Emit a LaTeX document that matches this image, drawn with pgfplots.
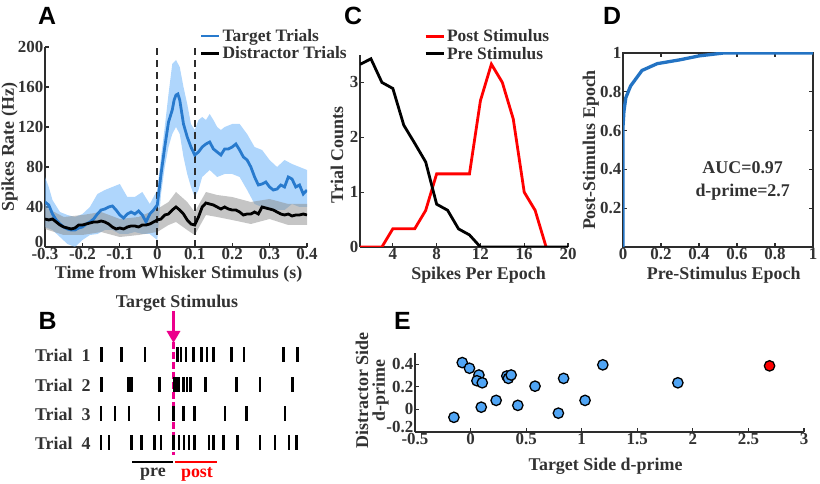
\documentclass[border=0pt]{standalone}
\usepackage{fontspec}
\setmainfont{Liberation Serif}
\setsansfont{Liberation Sans}
\usepackage{pgfplots}
\pgfplotsset{compat=1.18}
\usetikzlibrary{arrows.meta}
\definecolor{tgtblue}{RGB}{40,122,205}
\definecolor{shadeblue}{RGB}{110,180,250}
\definecolor{ptblue}{RGB}{80,165,245}
\definecolor{rocblue}{RGB}{35,115,195}
\definecolor{axgray}{RGB}{45,45,45}
\definecolor{txtgray}{RGB}{50,50,50}
\newcommand{\lf}{\fontsize{18}{17}\selectfont\bfseries}
\pgfplotsset{
 mystyle/.style={
  scale only axis, anchor=south west,
  axis line style={axgray, line width=1.6bp},
  tick style={axgray, line width=1.2bp},
  tick align=inside, major tick length=4bp,
  ticklabel style={font=\fontsize{17}{19}\selectfont\bfseries, text=txtgray},
  label style={font=\lf, text=txtgray},
  xticklabel style={inner sep=1bp},
  yticklabel style={inner sep=1.5bp},
 },
 mylegend/.style={
  legend style={draw=none, fill=none, inner sep=0pt, font=\fontsize{17.5}{19}\selectfont\bfseries, text=txtgray, row sep=0bp},
  legend cell align=left,
  legend image code/.code={\draw[##1] (0bp,0bp) -- (18bp,0bp);},
 }
}
\begin{document}
\begin{tikzpicture}
\useasboundingbox (0,0) rectangle (820bp,484bp);
% ---------------- Panel A
\begin{axis}[mystyle, mylegend, at={(45bp,237bp)}, width=262bp, height=200bp,
 xmin=-0.3, xmax=0.4, ymin=0, ymax=200,
 axis x line*=bottom, axis y line*=left,
 xtick={-0.3,-0.2,-0.1,0,0.1,0.2,0.3,0.4}, xticklabels={-0.3,-0.2,-0.1,0,0.1,0.2,0.3,0.4},
 ytick={0,40,80,120,160,200}, yticklabels={\raisebox{-0.5bp}[0pt][0pt]{0},40,80,120,160,200},
 xlabel={Time from Whisker Stimulus (s)}, ylabel={Spikes Rate (Hz)},
 xlabel style={at={(axis description cs:0.51,-0.137)}, anchor=center},
 ylabel style={at={(axis description cs:-0.135,0.5)}, anchor=center},
 legend style={at={(axis description cs:0.59,1.1)}, anchor=north west}]
\addplot[forget plot, draw=none, fill=shadeblue, fill opacity=0.55] coordinates {
(-0.3,70)(-0.29,60)(-0.28,47)(-0.26,35)(-0.24,32)(-0.22,30)(-0.20,33)(-0.18,40)(-0.16,53)(-0.14,57)(-0.12,60)(-0.10,63)(-0.08,50)(-0.06,50)(-0.04,55)(-0.02,43)(-0.01,50)(0,57)(0.01,90)(0.02,120)(0.03,153)(0.04,183)(0.05,187)(0.06,180)(0.07,160)(0.08,143)(0.09,123)(0.10,117)(0.11,127)(0.12,130)(0.13,127)(0.14,133)(0.15,127)(0.16,120)(0.17,117)(0.18,120)(0.20,123)(0.22,123)(0.24,113)(0.26,100)(0.28,97)(0.30,87)(0.32,80)(0.34,87)(0.36,83)(0.38,80)(0.40,77)
(0.40,40)(0.38,40)(0.36,43)(0.34,37)(0.32,37)(0.30,37)(0.28,40)(0.26,43)(0.24,57)(0.22,70)(0.20,73)(0.18,73)(0.16,70)(0.14,77)(0.12,70)(0.11,57)(0.10,50)(0.09,60)(0.08,73)(0.07,90)(0.06,113)(0.05,120)(0.04,113)(0.03,100)(0.02,80)(0.01,53)(0,7)(-0.02,13)(-0.04,13)(-0.06,15)(-0.08,13)(-0.10,13)(-0.12,17)(-0.14,17)(-0.16,13)(-0.18,12)(-0.20,7)(-0.22,0)(-0.24,3)(-0.26,10)(-0.28,17)(-0.30,20)};
\addplot[forget plot, draw=none, fill=black!45, fill opacity=0.5] coordinates {
(-0.3,40)(-0.25,30)(-0.2,32)(-0.15,35)(-0.1,28)(-0.05,30)(0,38)(0.03,45)(0.05,55)(0.08,45)(0.1,35)(0.13,55)(0.16,52)(0.2,50)(0.25,45)(0.3,48)(0.35,43)(0.4,43)
(0.4,22)(0.35,22)(0.3,28)(0.25,23)(0.2,27)(0.16,30)(0.13,32)(0.1,12)(0.08,17)(0.05,25)(0.03,22)(0,15)(-0.05,12)(-0.1,10)(-0.15,15)(-0.2,12)(-0.25,12)(-0.3,18)};
\addplot[forget plot, axgray, line width=1.7bp, dash pattern=on 7bp off 5bp] coordinates {(0,0)(0,200)};
\addplot[forget plot, axgray, line width=1.7bp, dash pattern=on 7bp off 5bp] coordinates {(0.1,0)(0.1,200)};
\addplot[tgtblue, line width=2.8bp] coordinates {
(-0.3,45)(-0.29,42)(-0.28,33)(-0.27,27)(-0.26,23)(-0.25,20)(-0.24,18)(-0.23,17)(-0.22,17)(-0.21,19)(-0.20,20)(-0.19,23)(-0.18,25)(-0.17,28)(-0.16,33)(-0.15,37)(-0.14,38)(-0.13,40)(-0.12,41)(-0.11,37)(-0.10,32)(-0.09,29)(-0.08,33)(-0.07,35)(-0.06,33)(-0.05,36)(-0.04,32)(-0.03,25)(-0.02,33)(-0.01,37)(0,42)(0.01,73)(0.02,100)(0.03,125)(0.04,137)(0.045,147)(0.05,152)(0.055,153)(0.06,147)(0.07,123)(0.08,110)(0.09,100)(0.10,92)(0.11,95)(0.12,100)(0.13,103)(0.14,105)(0.15,98)(0.16,95)(0.17,92)(0.18,98)(0.19,98)(0.20,100)(0.21,103)(0.22,97)(0.23,90)(0.24,87)(0.25,80)(0.26,70)(0.27,62)(0.28,63)(0.29,65)(0.30,60)(0.31,57)(0.32,58)(0.33,62)(0.34,60)(0.35,70)(0.36,68)(0.37,60)(0.38,62)(0.39,53)(0.40,57)};
\addlegendentry{Target Trials}
\addplot[black, line width=2.8bp] coordinates {
(-0.3,28)(-0.29,27)(-0.28,28)(-0.27,25)(-0.26,22)(-0.25,20)(-0.24,19)(-0.23,18)(-0.22,19)(-0.21,22)(-0.20,22)(-0.19,23)(-0.18,24)(-0.17,25)(-0.16,25)(-0.15,26)(-0.14,25)(-0.13,23)(-0.12,20)(-0.11,18)(-0.10,19)(-0.09,18)(-0.08,20)(-0.07,21)(-0.06,21)(-0.05,20)(-0.04,22)(-0.03,22)(-0.02,23)(-0.01,25)(0,27)(0.01,28)(0.02,32)(0.03,33)(0.04,37)(0.05,40)(0.06,37)(0.07,33)(0.08,27)(0.09,23)(0.10,22)(0.11,30)(0.12,40)(0.13,44)(0.14,43)(0.15,42)(0.16,40)(0.17,38)(0.18,40)(0.19,38)(0.20,37)(0.21,37)(0.22,35)(0.23,32)(0.24,33)(0.25,33)(0.26,35)(0.27,33)(0.28,40)(0.29,39)(0.30,38)(0.31,37)(0.32,35)(0.33,33)(0.34,32)(0.35,33)(0.36,31)(0.37,32)(0.38,32)(0.39,33)(0.40,32)};
\addlegendentry{Distractor Trials}
\end{axis}
% ---------------- Panel C
\begin{axis}[mystyle, mylegend, at={(360bp,237bp)}, width=208bp, height=192bp,
 xmin=1, xmax=20, ymin=0, ymax=3.5,
 axis x line*=bottom, axis y line*=left,
 xtick={4,8,12,16,20}, xticklabels={4,8,12,16,20},
 ytick={0,1,2,3}, yticklabels={0,1,2,3},
 xlabel={Spikes Per Epoch}, ylabel={Trial Counts},
 xlabel style={at={(axis description cs:0.57,-0.146)}, anchor=center},
 ylabel style={at={(axis description cs:-0.11,0.48)}, anchor=center},
 legend style={at={(axis description cs:0.308,1.145)}, anchor=north west}]
\addplot[red, line width=2.8bp] coordinates {
(1,0)(2,0)(3,0)(4,0.333)(5,0.333)(6,0.333)(7,0.667)(8,1.333)(9,1.333)(10,1.333)(11,1.333)(12,2.667)(13,3.333)(14,3)(15,2.333)(16,1)(17,0.667)(18,0)};
\addlegendentry{Post Stimulus}
\addplot[black, line width=2.8bp] coordinates {
(1,3.33)(2,3.43)(3,3)(4,2.89)(5,2.22)(6,1.89)(7,1.55)(8,0.78)(9,0.67)(10,0.33)(11,0.22)(12,0)(13,0)(14,0)(15,0)(16,0)(17,0)(18,0)(19,0)(20,0)};
\addlegendentry{Pre Stimulus}
\end{axis}
% ---------------- Panel D
\begin{axis}[mystyle, at={(623bp,237bp)}, width=190bp, height=194bp,
 xmin=0, xmax=1, ymin=0, ymax=1,
 xtick={0,0.2,0.4,0.6,0.8,1}, xticklabels={0,0.2,0.4,0.6,0.8,1},
 ytick={0.2,0.4,0.6,0.8,1}, yticklabels={0.2,0.4,0.6,0.8,1},
 xlabel={Pre-Stimulus Epoch}, ylabel={Post-Stimulus Epoch},
 xlabel style={at={(axis description cs:0.53,-0.145)}, anchor=center},
 ylabel style={at={(axis description cs:-0.17,0.5)}, anchor=center}]
\addplot[rocblue, line width=3.3bp] coordinates {
(0,0)(0,0.62)(0.005,0.7)(0.015,0.77)(0.04,0.83)(0.1,0.91)(0.18,0.945)(0.3,0.965)(0.4,0.985)(0.53,1)(1,1)};
\node[font=\lf, text=txtgray] at (axis cs:0.63,0.41) {AUC=0.97};
\node[font=\lf, text=txtgray] at (axis cs:0.63,0.285) {d-prime=2.7};
\end{axis}
% ---------------- Panel E
\begin{axis}[mystyle, at={(415bp,52bp)}, width=389bp, height=79bp,
 xmin=-0.5, xmax=3, ymin=-0.2, ymax=0.5, clip=false,
 axis x line*=bottom, axis y line*=left,
 xtick={-0.5,0,0.5,1,1.5,2,2.5,3}, xticklabels={-0.5,0,0.5,1,1.5,2,2.5,3},
 ytick={-0.2,0,0.2,0.4}, yticklabels={\raisebox{-0.5bp}[0pt][0pt]{-0.2},0,0.2,0.4},
 xticklabel style={inner sep=1.5bp},
 xlabel={Target Side d-prime}, ylabel={Distractor Side\\d-prime},
 xlabel style={at={(axis description cs:0.49,-0.43)}, anchor=center},
 ylabel style={at={(axis description cs:-0.11,0.53)}, anchor=center, align=center}]
\addplot[only marks, mark=*, mark size=5.2bp, mark options={fill=ptblue, draw=black, line width=1.3bp}] coordinates {
(-0.075,0.415)(-0.01,0.365)(0.075,0.305)(0.057,0.254)(0.105,0.236)(0.326,0.296)(0.34,0.275)(0.365,0.305)(0.23,0.08)(0.096,0.02)(-0.15,-0.07)(0.425,0.036)(0.58,0.206)(0.79,-0.033)(0.837,0.275)(1.03,0.08)(1.19,0.395)(1.865,0.236)};
\addplot[only marks, mark=*, mark size=5.2bp, mark options={fill=red, draw=black, line width=1.3bp}] coordinates {(2.69,0.386)};
\end{axis}
% ---------------- Panel B (raster, pixel coordinates)
\begin{axis}[scale only axis, anchor=south west, at={(95bp,4bp)}, width=210bp, height=186bp,
 xmin=95, xmax=305, ymin=-480, ymax=-294, axis lines=none, clip=false]
\addplot[only marks, mark=|, mark size=7.5bp, mark options={line width=2.6bp, black}] coordinates {
(101.7,-355)(121.7,-355)(145,-355)(177.5,-355)(181,-355)(186,-355)(193.3,-355)(201.7,-355)(207,-355)(213.3,-355)(231.3,-355)(243.8,-355)(283.3,-355)(297.2,-355)};
\addplot[only marks, mark=|, mark size=7.5bp, mark options={line width=2.6bp, black}] coordinates {
(101.7,-385)(128.3,-385)(131.3,-385)(159.3,-385)(174.5,-385)(176,-385)(177.5,-385)(179,-385)(183.5,-385)(187,-385)(190.5,-385)(205.5,-385)(236.7,-385)(260,-385)(292.5,-385)};
\addplot[only marks, mark=|, mark size=7.5bp, mark options={line width=2.6bp, black}] coordinates {
(101,-414)(115,-414)(129,-414)(159,-414)(173.3,-414)(183.3,-414)(194.7,-414)(225,-414)(246.7,-414)(285,-414)};
\addplot[only marks, mark=|, mark size=7.5bp, mark options={line width=2.6bp, black}] coordinates {
(101,-443)(109,-443)(131.3,-443)(141.7,-443)(154.7,-443)(161,-443)(173.3,-443)(179,-443)(184,-443)(189,-443)(194.7,-443)(209,-443)(213.3,-443)(223.3,-443)(237.5,-443)(260,-443)(275,-443)(289,-443)(296.7,-443)};
\addplot[magenta, line width=3bp, dash pattern=on 7bp off 3bp] coordinates {(173.5,-342)(173.5,-455)};
\addplot[magenta, line width=3bp, -{Triangle[length=12bp,width=13bp]}] coordinates {(173.5,-311)(173.5,-343)};
\addplot[black, line width=2.6bp] coordinates {(132,-462)(172.5,-462)};
\addplot[red, line width=2.6bp] coordinates {(175,-462)(217,-462)};
\node[font=\lf, text=txtgray] at (axis cs:177,-303) {Target Stimulus};
\node[font=\lf, text=txtgray, anchor=east] at (axis cs:94,-355) {Trial\ \ 1};
\node[font=\lf, text=txtgray, anchor=east] at (axis cs:94,-385) {Trial\ \ 2};
\node[font=\lf, text=txtgray, anchor=east] at (axis cs:94,-414) {Trial\ \ 3};
\node[font=\lf, text=txtgray, anchor=east] at (axis cs:94,-443) {Trial\ \ 4};
\node[font=\lf, text=txtgray] at (axis cs:153,-474) {pre};
\node[font=\lf, text=red] at (axis cs:197,-474) {post};
\end{axis}
% ---------------- Panel letters
\node[font=\fontsize{25}{25}\selectfont\sffamily\bfseries] at (47bp,468bp) {A};
\node[font=\fontsize{25}{25}\selectfont\sffamily\bfseries] at (47.5bp,163bp) {B};
\node[font=\fontsize{25}{25}\selectfont\sffamily\bfseries] at (353bp,468bp) {C};
\node[font=\fontsize{25}{25}\selectfont\sffamily\bfseries] at (612bp,468bp) {D};
\node[font=\fontsize{25}{25}\selectfont\sffamily\bfseries] at (402.5bp,163bp) {E};
\end{tikzpicture}
\end{document}
